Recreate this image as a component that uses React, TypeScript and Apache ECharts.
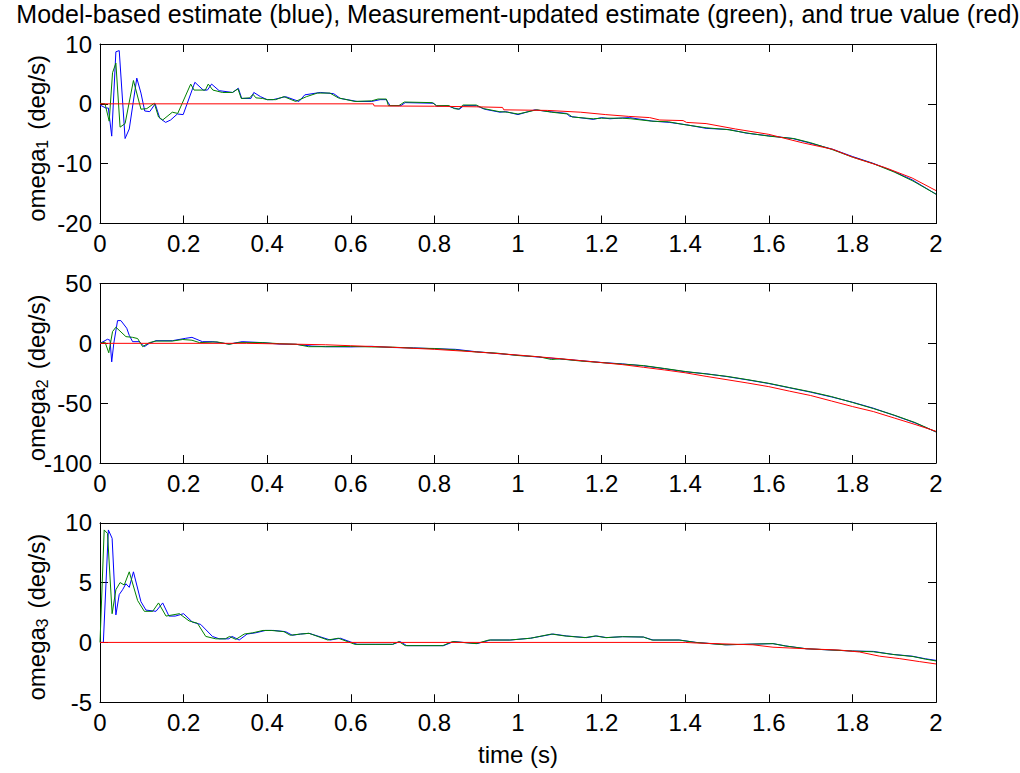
import React, { useEffect, useRef } from "react";
import * as echarts from "echarts";

type Pt = [number, number];

const titleText =
  "Model-based estimate (blue), Measurement-updated estimate (green), and true value (red)";
const xLabelText = "time (s)";
const yLabelMain = "omega";
const yLabelUnit = "(deg/s)";
const yLabelIdx = ["1", "2", "3"];
const yLimits: [number, number, number][] = [
  [-20, 10, 10],
  [-100, 50, 50],
  [-5, 10, 5],
];

// omega_1
const omega1Blue: Pt[] = [
  [0, -0.2], [0.014, -0.7], [0.02, -0.7], [0.028, -5.4], [0.038, 8.7], [0.046, 8.9], [0.06, -5.8], [0.07, -4.2],
  [0.088, 4.3], [0.098, 1.8], [0.107, -1.2], [0.119, -1.3], [0.132, 0], [0.143, -2.4], [0.157, -3.1], [0.169, -2.7],
  [0.185, -1.7], [0.199, -1.8], [0.227, 3.6], [0.247, 2.3], [0.257, 2.3], [0.267, 3.3], [0.285, 2.2], [0.317, 1.9],
  [0.331, 2.6], [0.339, 0.9], [0.361, 0.9], [0.368, 1.9], [0.384, 1.2], [0.4, 0.7], [0.414, 0.7], [0.444, 1.2],
  [0.476, 0.4], [0.49, 1.5], [0.527, 1.9], [0.559, 1.7], [0.575, 0.9], [0.615, 0.4], [0.65, 0.4], [0.67, 0.7],
  [0.685, 0.7], [0.694, -0.3], [0.72, -0.3], [0.73, 0.2], [0.798, 0.1], [0.806, -0.4], [0.83, -0.3], [0.846, -0.7],
  [0.86, -0.9], [0.87, -0.3], [0.9, -0.3], [0.92, -0.9], [0.957, -1.4], [0.97, -1.3], [1.0, -1.8], [1.04, -1.0],
  [1.075, -1.3], [1.116, -1.6], [1.124, -2.1], [1.18, -2.6], [1.2, -2.3], [1.22, -2.5], [1.24, -2.4], [1.267, -2.3],
  [1.323, -2.9], [1.362, -3.1], [1.403, -3.5], [1.45, -4.1], [1.506, -4.3], [1.546, -4.9], [1.594, -5.3], [1.657, -5.8],
  [1.69, -6.4], [1.753, -7.6], [1.8, -8.8], [1.848, -9.9], [1.896, -11.2], [1.943, -12.7], [2.0, -15.1],
];
const omega1Green: Pt[] = [
  [0, 0.1], [0.012, 0], [0.022, -2.9], [0.03, 5.2], [0.038, 6.8], [0.048, -3.9], [0.06, -3.3], [0.08, 3.9],
  [0.098, -0.9], [0.112, -0.8], [0.13, 0.1], [0.14, -2.2], [0.15, -2.7], [0.173, -1.4], [0.186, -1.6], [0.217, 3.3],
  [0.225, 2.3], [0.252, 2.3], [0.259, 3.3], [0.27, 2.3], [0.293, 1.9], [0.317, 1.9], [0.33, 2.5], [0.338, 0.9],
  [0.358, 1.0], [0.366, 1.6], [0.373, 1.0], [0.389, 0.9], [0.4, 0.7], [0.42, 0.7], [0.44, 1.2], [0.468, 0.4],
  [0.494, 1.2], [0.52, 1.8], [0.55, 1.8], [0.57, 1.0], [0.61, 0.4], [0.65, 0.5], [0.665, 0.8], [0.685, 0.8],
  [0.69, -0.3], [0.715, -0.3], [0.728, 0.3], [0.795, 0.2], [0.805, -0.3], [0.835, -0.3], [0.848, -0.8], [0.858, -0.9],
  [0.868, -0.2], [0.9, -0.2], [0.918, -0.8], [0.955, -1.3], [0.975, -1.4], [1.0, -1.7], [1.045, -1.0], [1.08, -1.4],
  [1.12, -1.7], [1.13, -2.2], [1.18, -2.5], [1.2, -2.4], [1.25, -2.4], [1.27, -2.5], [1.32, -2.9], [1.36, -3.0],
  [1.4, -3.5], [1.45, -4.0], [1.5, -4.3], [1.55, -4.9], [1.6, -5.4], [1.66, -5.8], [1.7, -6.5], [1.75, -7.6],
  [1.8, -8.9], [1.85, -10.0], [1.9, -11.4], [1.945, -12.9], [2.0, -15.1],
];
const omega1Red: Pt[] = [
  [0, 0], [0.654, 0], [0.656, -0.35], [0.8, -0.4], [0.9, -0.5], [0.963, -0.6], [0.966, -1.0], [1.07, -1.1],
  [1.15, -1.4], [1.21, -1.8], [1.265, -2.1], [1.315, -2.3], [1.339, -2.7], [1.395, -2.8], [1.403, -3.1], [1.45, -3.3],
  [1.52, -4.2], [1.6, -5.1], [1.68, -6.5], [1.753, -7.6], [1.8, -8.9], [1.88, -10.7], [1.943, -12.4], [2.0, -14.5],
];

// omega_2
const omega2Blue: Pt[] = [
  [0, 0], [0.018, 3.4], [0.024, 2.5], [0.028, -15.5], [0.033, 0], [0.042, 19], [0.05, 19], [0.064, 12.6],
  [0.07, 6.7], [0.078, 1.4], [0.094, 1.4], [0.106, -2.8], [0.118, 0], [0.134, 2.2], [0.173, 2.2], [0.205, 4.2],
  [0.22, 5], [0.245, 1.4], [0.27, 1.4], [0.309, -0.6], [0.34, 1.4], [0.388, 0.6], [0.428, -0.6], [0.467, -0.8],
  [0.507, -2.3], [0.54, -2.8], [0.6, -3], [0.65, -2.5], [0.7, -3.5], [0.75, -3.8], [0.8, -4.5], [0.85, -5],
  [0.9, -7], [0.95, -8.5], [1.0, -10], [1.05, -11.5], [1.1, -13], [1.15, -14.5], [1.2, -16], [1.25, -17.2],
  [1.3, -18.8], [1.35, -21.2], [1.4, -23.8], [1.45, -25.4], [1.5, -27.8], [1.55, -30.6], [1.6, -33.6],
  [1.65, -37.2], [1.7, -40.8], [1.75, -44.8], [1.8, -49.2], [1.85, -54.2], [1.9, -60.2], [1.95, -66.5], [2.0, -74],
];
const omega2Green: Pt[] = [
  [0, 0], [0.012, 1], [0.021, -7.9], [0.03, 9.8], [0.038, 13.5], [0.062, 5.6], [0.078, 5], [0.09, 4],
  [0.102, -2.8], [0.118, 0.6], [0.134, 1.9], [0.173, 1.9], [0.198, 3.2], [0.22, 2.6], [0.238, 0.6], [0.28, 1.2],
  [0.309, -0.8], [0.33, 0.6], [0.388, 0.6], [0.43, -0.3], [0.47, -0.8], [0.499, -2.8], [0.54, -2.8], [0.6, -2.6],
  [0.65, -3], [0.7, -3.2], [0.75, -4], [0.8, -4.3], [0.85, -5.5], [0.9, -7.2], [0.95, -8.2], [1.0, -10.2],
  [1.05, -11.2], [1.08, -13.5], [1.1, -13], [1.15, -14.8], [1.2, -16.1], [1.25, -17.4], [1.3, -18.6],
  [1.35, -21.0], [1.4, -23.5], [1.45, -25.6], [1.5, -27.6], [1.55, -30.4], [1.6, -33.4], [1.65, -37.0],
  [1.7, -40.5], [1.75, -44.5], [1.8, -49.4], [1.85, -54.5], [1.9, -60.0], [1.95, -66.2], [2.0, -74],
];
const omega2Red: Pt[] = [
  [0, 0], [0.35, 0], [0.45, -0.6], [0.54, -1.2], [0.6, -2], [0.7, -3.3], [0.8, -5], [0.9, -7.2], [1.0, -9.8],
  [1.1, -12.8], [1.2, -16.1], [1.25, -17.8], [1.3, -20.0], [1.35, -22.2], [1.4, -24.6], [1.45, -27.6],
  [1.5, -30.4], [1.55, -33.2], [1.6, -36.2], [1.65, -40.0], [1.7, -43.6], [1.75, -48.2], [1.8, -52.8],
  [1.85, -57.0], [1.9, -62.4], [1.95, -67.8], [2.0, -73.5],
];

// omega_3
const omega3Blue: Pt[] = [
  [0, 0], [0.008, 0], [0.02, 9.4], [0.029, 8.7], [0.038, 2.3], [0.046, 4.0], [0.054, 4.4], [0.062, 4.9],
  [0.07, 4.6], [0.08, 5.9], [0.098, 3.4], [0.11, 2.7], [0.134, 2.6], [0.15, 3.3], [0.165, 2.2], [0.18, 2.2],
  [0.2, 2.4], [0.221, 1.7], [0.241, 1.5], [0.269, 0.5], [0.285, 0.3], [0.308, 0.3], [0.316, 0.5], [0.333, 0.2],
  [0.352, 0.7], [0.372, 0.8], [0.396, 1.0], [0.416, 1.0], [0.444, 0.9], [0.46, 0.6], [0.48, 0.7], [0.5, 0.76],
  [0.551, 0.2], [0.575, 0.35], [0.615, -0.16], [0.66, -0.16], [0.7, -0.16], [0.718, 0.07], [0.734, -0.27],
  [0.822, -0.27], [0.846, 0.07], [0.902, -0.1], [0.934, 0.2], [0.982, 0.2], [1.03, 0.35], [1.084, 0.7],
  [1.116, 0.54], [1.164, 0.4], [1.188, 0.54], [1.212, 0.4], [1.25, 0.48], [1.3, 0.45], [1.323, 0.2], [1.386, 0.2],
  [1.426, 0], [1.498, -0.2], [1.61, -0.1], [1.641, -0.3], [1.689, -0.53], [1.8, -0.72], [1.85, -0.75],
  [1.896, -1.0], [1.943, -1.15], [1.975, -1.37], [2.0, -1.5],
];
const omega3Green: Pt[] = [
  [0, 0], [0.01, 9.4], [0.018, 9.1], [0.029, 2.4], [0.038, 4.4], [0.048, 5.0], [0.058, 4.8], [0.07, 5.9],
  [0.09, 3.5], [0.106, 2.6], [0.126, 2.6], [0.14, 3.3], [0.158, 2.2], [0.19, 2.4], [0.213, 1.8], [0.233, 1.6],
  [0.253, 0.5], [0.277, 0.3], [0.3, 0.3], [0.31, 0.5], [0.325, 0.25], [0.345, 0.7], [0.365, 0.8], [0.39, 1.0],
  [0.41, 1.0], [0.44, 0.9], [0.455, 0.6], [0.48, 0.7], [0.5, 0.76], [0.545, 0.2], [0.57, 0.35], [0.61, -0.16],
  [0.7, -0.16], [0.715, 0.07], [0.73, -0.27], [0.82, -0.27], [0.843, 0.07], [0.9, -0.1], [0.93, 0.2], [0.98, 0.2],
  [1.03, 0.35], [1.08, 0.7], [1.112, 0.54], [1.16, 0.4], [1.185, 0.54], [1.21, 0.4], [1.25, 0.48], [1.3, 0.45],
  [1.32, 0.2], [1.385, 0.2], [1.425, 0], [1.495, -0.2], [1.61, -0.1], [1.64, -0.3], [1.69, -0.53], [1.8, -0.72],
  [1.85, -0.78], [1.9, -1.02], [1.945, -1.18], [1.975, -1.4], [2.0, -1.55],
];
const omega3Red: Pt[] = [
  [0, 0], [1.4, 0], [1.426, -0.05], [1.562, -0.2], [1.61, -0.4], [1.689, -0.53], [1.769, -0.64], [1.817, -0.8],
  [1.865, -1.15], [1.912, -1.35], [1.96, -1.6], [2.0, -1.8],
];

const panels: Pt[][][] = [
  [omega1Blue, omega1Green, omega1Red],
  [omega2Blue, omega2Green, omega2Red],
  [omega3Blue, omega3Green, omega3Red],
];
const lineColors = ["#0000ff", "#008000", "#ff0000"];

const FONT = "'Liberation Sans', Arial, Helvetica, sans-serif";
const GRID_LEFT = 100;
const GRID_WIDTH = 836;
const GRID_TOPS = [44, 283.5, 522.75];
const GRID_HEIGHT = 179.5;
const TICK_FS = 24;

export default function App() {
  const ref = useRef<HTMLDivElement>(null);
  useEffect(() => {
    if (!ref.current) return;
    const chart = echarts.init(ref.current, undefined, { renderer: "svg" });
    const axisLine = { show: true, onZero: false, lineStyle: { color: "#000", width: 1 } };
    const tick = { show: true, inside: true, length: 8, lineStyle: { color: "#000", width: 1 } };
    const grids: any[] = [];
    const xAxes: any[] = [];
    const yAxes: any[] = [];
    const series: any[] = [];
    const graphics: any[] = [];
    GRID_TOPS.forEach((top, i) => {
      grids.push({ left: GRID_LEFT, top, width: GRID_WIDTH, height: GRID_HEIGHT, show: false });
      const xBase = {
        type: "value", gridIndex: i, min: 0, max: 2, interval: 0.2,
        axisLine, axisTick: tick, splitLine: { show: false },
      };
      xAxes.push({
        ...xBase, position: "bottom",
        axisLabel: {
          show: true, color: "#000", fontSize: TICK_FS, fontFamily: FONT, margin: 8,
          formatter: (v: number) => String(Math.round(v * 10) / 10),
        },
      });
      xAxes.push({ ...xBase, position: "top", axisLabel: { show: false } });
      const [mn, mx, iv] = yLimits[i];
      const yBase = {
        type: "value", gridIndex: i, min: mn, max: mx, interval: iv,
        axisLine, axisTick: tick, splitLine: { show: false },
      };
      yAxes.push({
        ...yBase, position: "left",
        axisLabel: { show: true, color: "#000", fontSize: TICK_FS, fontFamily: FONT, margin: 8 },
      });
      yAxes.push({ ...yBase, position: "right", axisLabel: { show: false } });
      panels[i].forEach((data, k) => {
        series.push({
          type: "line", xAxisIndex: 2 * i, yAxisIndex: 2 * i, data,
          showSymbol: false, symbol: "none", silent: true,
          lineStyle: { color: lineColors[k], width: 1 },
          itemStyle: { color: lineColors[k] },
        });
      });
      const c = top + GRID_HEIGHT / 2;
      const rot = Math.PI / 2;
      graphics.push({
        type: "text", x: 36, y: c + 88, rotation: rot,
        style: { text: yLabelMain, align: "left", verticalAlign: "middle", fill: "#000", font: `${TICK_FS}px ${FONT}` },
      });
      graphics.push({
        type: "text", x: 42, y: c + 15, rotation: rot,
        style: { text: yLabelIdx[i], align: "left", verticalAlign: "middle", fill: "#000", font: `16px ${FONT}` },
      });
      graphics.push({
        type: "text", x: 36, y: c - 4, rotation: rot,
        style: { text: yLabelUnit, align: "left", verticalAlign: "middle", fill: "#000", font: `${TICK_FS}px ${FONT}` },
      });
    });
    graphics.push({
      type: "text", x: 518, y: 13.5,
      style: { text: titleText, align: "center", verticalAlign: "middle", fill: "#000", font: `25px ${FONT}` },
    });
    graphics.push({
      type: "text", x: 518, y: 754.5,
      style: { text: xLabelText, align: "center", verticalAlign: "middle", fill: "#000", font: `${TICK_FS}px ${FONT}` },
    });
    chart.setOption({
      animation: false,
      backgroundColor: "#fff",
      grid: grids,
      xAxis: xAxes,
      yAxis: yAxes,
      series,
      graphic: graphics,
    });
    return () => chart.dispose();
  }, []);
  return (
    <div
      ref={ref}
      style={{ position: "absolute", left: 0, top: 0, width: 1020, height: 773, background: "#fff" }}
    />
  );
}
